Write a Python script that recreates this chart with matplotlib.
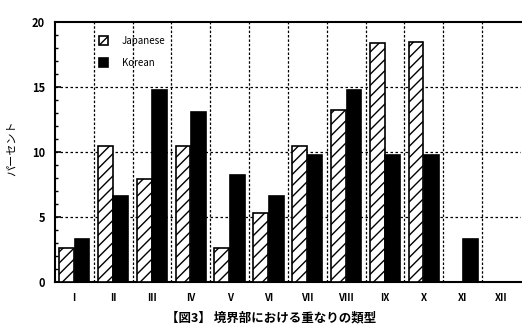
import numpy as np
from matplotlib import pyplot as plt
from matplotlib.ticker import MultipleLocator

plt.rcParams['font.family'] = ['Noto Sans CJK JP', 'DejaVu Sans']
plt.rcParams['hatch.linewidth'] = 1.0

categories = ["I", "II", "III", "IV", "V", "VI", "VII", "VIII", "IX", "X", "XI", "XII"]
japanese = [2.6, 10.5, 7.9, 10.5, 2.6, 5.3, 10.5, 13.2, 18.4, 18.5, 0, 0]
korean = [3.3, 6.6, 14.8, 13.1, 8.2, 6.6, 9.8, 14.8, 9.8, 9.8, 3.3, 0]

fig = plt.figure(figsize=(5.22, 3.29), dpi=100)
ax = fig.add_axes([0.105, 0.143, 0.893, 0.79])

x = np.arange(len(categories))
w = 0.38
ax.bar(x - w / 2 - 0.01, japanese, w, color="white", edgecolor="black",
       hatch="///", linewidth=1.2, label="Japanese", zorder=3)
ax.bar(x + w / 2 + 0.01, korean, w, color="black", edgecolor="black",
       linewidth=1.2, label="Korean", zorder=3)

ax.set_xlim(-0.5, len(categories) - 0.5)
ax.set_ylim(0, 20)
ax.set_yticks([0, 5, 10, 15, 20])
ax.yaxis.set_minor_locator(MultipleLocator(1))
ax.set_xticks(x)
ax.set_xticklabels(categories, fontweight="bold", fontsize=7)
for lab in ax.get_yticklabels():
    lab.set_fontweight("bold")
    lab.set_fontsize(8)

# dotted grid: horizontal at 5/10/15, vertical at group boundaries
for yv in [5, 10, 15]:
    ax.axhline(yv, color="black", linestyle=(0, (2, 2)), linewidth=0.9, zorder=1)
for xv in np.arange(0.5, len(categories) - 0.5, 1):
    ax.axvline(xv, color="black", linestyle=(0, (2, 1.5)), linewidth=0.9, zorder=1)

ax.tick_params(axis="x", length=0, pad=8)
ax.tick_params(axis="y", which="major", length=4, width=1.2, direction="in", pad=7)
ax.tick_params(axis="y", which="minor", length=2, width=1, direction="in")
for s in ["left", "bottom", "top"]:
    ax.spines[s].set_linewidth(1.5)
ax.spines["right"].set_visible(False)

ax.legend(loc="upper left", bbox_to_anchor=(0.075, 0.98), frameon=False,
          fontsize=7, handlelength=1.0, handleheight=1.0, labelspacing=1.2,
          handletextpad=1.4)

fig.text(0.022, 0.55, "パーセント", rotation=90, fontsize=8, ha="center", va="center")
fig.text(0.52, 0.035, "【図3】 境界部における重なりの類型", fontsize=9,
         fontweight="bold", ha="center", va="center")

fig.savefig("out.png", dpi=100)
